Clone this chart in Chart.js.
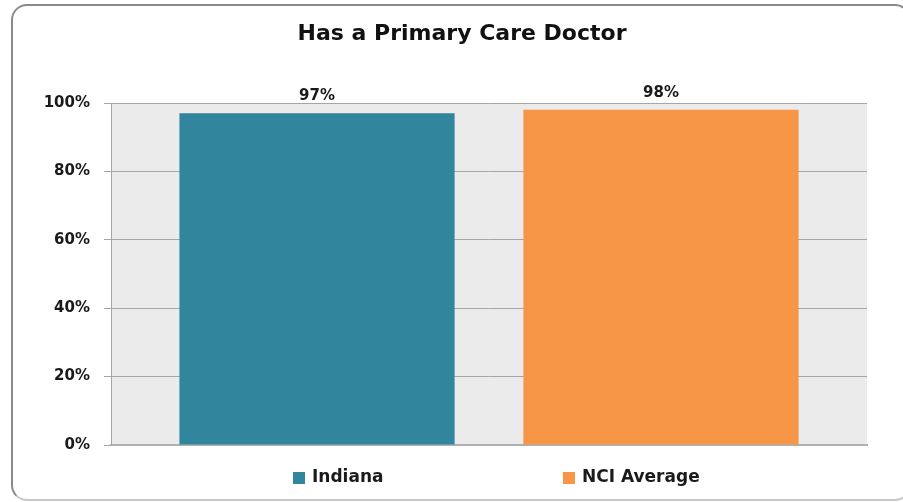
<!DOCTYPE html>
<html>
<head>
<meta charset="utf-8">
<script src="https://cdn.jsdelivr.net/npm/chart.js@4.4.1/dist/chart.umd.min.js"></script>
<style>
  html, body { margin: 0; padding: 0; background: #fff; }
  body { width: 903px; height: 502px; position: relative; overflow: hidden; }
  .frame {
    position: absolute; left: 11px; top: 4px; width: 900px; height: 497px;
    border: 2px solid #8a8a8a; border-bottom-color: #c8c8c8; border-radius: 16px;
    box-sizing: border-box;
  }
  #chart { position: absolute; left: 0; top: 0; }
</style>
</head>
<body>
<div class="frame"></div>
<canvas id="chart" width="903" height="502"></canvas>
<script>
// Data
const categories = [''];
const seriesNames = ['Indiana', 'NCI Average'];
const seriesValues = [[97], [98]];
const seriesColors = ['#31859C', '#F79646'];
const yTicks = [0, 20, 40, 60, 80, 100];
const chartTitle = 'Has a Primary Care Doctor';

const FONT = '"DejaVu Sans", sans-serif';

// Grey plot area
const plotBackground = {
  id: 'plotBackground',
  beforeDraw(chart) {
    const { ctx, chartArea: a } = chart;
    ctx.save();
    ctx.fillStyle = '#EBEBEB';
    ctx.fillRect(a.left, a.top, a.right - a.left, a.bottom - a.top);
    ctx.restore();
  }
};

// Title, centred on the whole frame rather than on the chart box
const frameTitle = {
  id: 'frameTitle',
  afterDraw(chart) {
    const ctx = chart.ctx;
    ctx.save();
    ctx.font = 'bold 22px ' + FONT;
    ctx.fillStyle = '#111';
    ctx.textAlign = 'center';
    ctx.textBaseline = 'middle';
    ctx.fillText(chartTitle, 462, 34);
    ctx.restore();
  }
};

// Value labels above bars
const valueLabels = {
  id: 'valueLabels',
  afterDatasetsDraw(chart) {
    const ctx = chart.ctx;
    ctx.save();
    ctx.font = 'bold 15px ' + FONT;
    ctx.fillStyle = '#1a1a1a';
    ctx.textAlign = 'center';
    ctx.textBaseline = 'middle';
    chart.data.datasets.forEach((ds, i) => {
      chart.getDatasetMeta(i).data.forEach((bar, j) => {
        ctx.fillText(ds.data[j] + '%', bar.x, bar.y - 17);
      });
    });
    ctx.restore();
  }
};

// Legend spread out below the plot
const spreadLegend = {
  id: 'spreadLegend',
  afterDraw(chart) {
    const ctx = chart.ctx;
    const boxX = [293, 563];
    const y = 478;
    ctx.save();
    ctx.font = 'bold 17px ' + FONT;
    ctx.textBaseline = 'middle';
    ctx.textAlign = 'left';
    chart.data.datasets.forEach((ds, i) => {
      ctx.fillStyle = ds.backgroundColor;
      ctx.fillRect(boxX[i], y - 6, 12, 12);
      ctx.fillStyle = '#1a1a1a';
      ctx.fillText(ds.label, boxX[i] + 19, y);
    });
    ctx.restore();
  }
};

new Chart(document.getElementById('chart'), {
  type: 'bar',
  data: {
    labels: categories,
    datasets: seriesNames.map((name, i) => ({
      label: name,
      data: seriesValues[i],
      backgroundColor: seriesColors[i],
      borderWidth: 0,
      barPercentage: 0.8,
      categoryPercentage: 0.91,
    })),
  },
  options: {
    responsive: false,
    animation: false,
    events: [],
    layout: { padding: { left: 0, right: 36, top: 103, bottom: 57 } },
    plugins: {
      legend: { display: false },
      tooltip: { enabled: false },
      title: { display: false },
    },
    scales: {
      x: {
        afterFit(scale) { scale.height = 0; },
        grid: { display: false, drawTicks: false },
        border: { color: '#B0B0B0', width: 2 },
        ticks: { display: false },
      },
      y: {
        min: 0,
        max: 100,
        afterFit(scale) { scale.width = 111; },
        afterBuildTicks(scale) { scale.ticks = yTicks.map(v => ({ value: v })); },
        grid: { color: '#A6A6A6', lineWidth: 1, tickLength: 7, drawTicks: true },
        border: { color: '#A6A6A6', width: 1 },
        ticks: {
          padding: 14,
          color: '#1a1a1a',
          font: { family: FONT, size: 15, weight: 'bold' },
          callback: v => v + '%',
        },
      },
    },
  },
  plugins: [plotBackground, valueLabels, spreadLegend, frameTitle],
});
</script>
</body>
</html>
